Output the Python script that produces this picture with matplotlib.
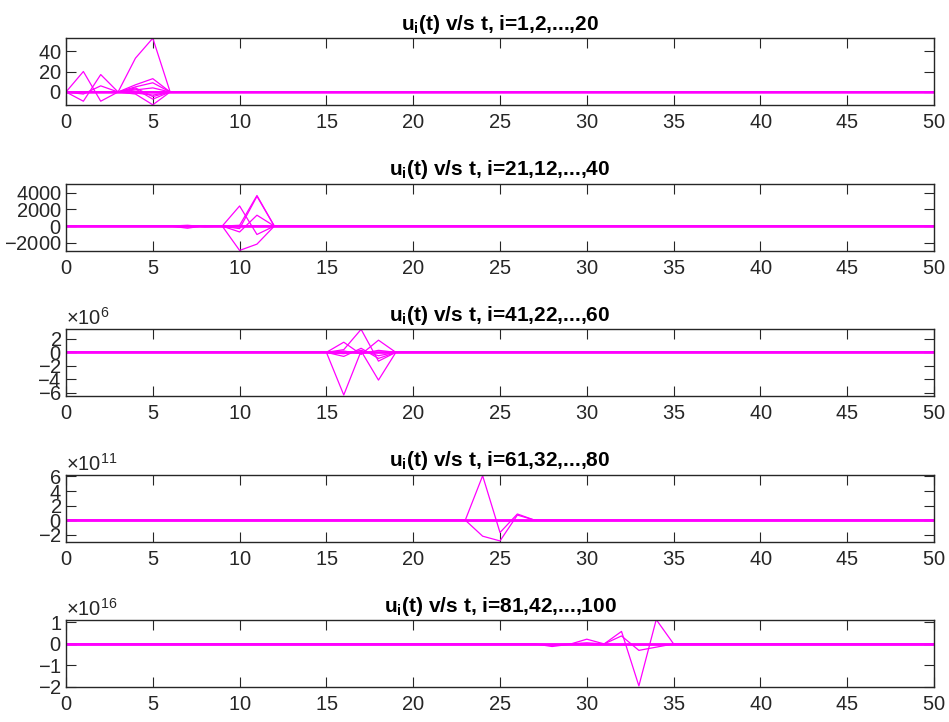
import numpy as np
import matplotlib
matplotlib.use("Agg")
import matplotlib.pyplot as plt

# time axis and number of series per panel
t = np.arange(0, 51)
n_series = 20

# each panel: start index of each bump and the bump values (zero elsewhere)
p1_start = [0, 0, 0, 3, 3, 3, 3, 3, 3, 3, 3]
p1_bumps = [[0, 20, -9, 0], [0, -9, 17, 0], [0, -2, 6, 0],
            [0, 33, 52.5, 0], [0, 7, 13, 0], [0, 5, 9, 0], [0, 3, -7, 0],
            [0, -2, -12.5, 0], [0, 2, 4, 0], [0, -1, -3, 0], [0, 4, -4.5, 0]]

p2_start = [9, 9, 9, 9, 9, 6, 6]
p2_bumps = [[0, 2400, -1000, 0], [0, 100, 3650, 0], [0, -300, 3550, 0],
            [0, -700, 1300, 0], [0, -2900, -2150, 0],
            [0, -250, 60, 0], [0, 100, -80, 0]]

p3_start = [15, 15, 15, 15, 15, 15]
p3_bumps = [[0, -6.3e6, 0.2e6, -4.1e6, 0], [0, 1.5e6, -0.3e6, 1.8e6, 0],
            [0, 0.4e6, 3.4e6, -1.3e6, 0], [0, -0.6e6, 0.6e6, -0.9e6, 0],
            [0, 0.2e6, -0.2e6, 0.3e6, 0], [0, -0.2e6, 0.3e6, -0.5e6, 0]]

p4_start = [23, 23]
p4_bumps = [[0, 6.1e11, -1.7e11, 0.85e11, 0], [0, -2.2e11, -2.85e11, 0.7e11, 0]]

p5_start = [27, 27]
p5_bumps = [[0, -0.12e16, -0.02e16, 0.22e16, 0, 0.58e16, -1.95e16, 1.13e16, 0],
            [0, -0.05e16, 0, 0.05e16, 0, 0.37e16, -0.3e16, -0.15e16, 0]]

titles = ["1,2,...,20", "21,12,...,40", "41,22,...,60", "61,32,...,80", "81,42,...,100"]
ylims = [(-12.7, 52.7), (-2910, 5080), (-6.45e6, 3.45e6), (-2.93e11, 6.27e11), (-2.0e16, 1.11e16)]
yticks = [[0, 20, 40], [-2000, 0, 2000, 4000], [-6e6, -4e6, -2e6, 0, 2e6],
          [-2e11, 0, 2e11, 4e11, 6e11], [-2e16, -1e16, 0, 1e16]]

panels = [(p1_start, p1_bumps), (p2_start, p2_bumps), (p3_start, p3_bumps),
          (p4_start, p4_bumps), (p5_start, p5_bumps)]

plt.rcParams["font.family"] = ["Liberation Sans", "DejaVu Sans"]
plt.rcParams["mathtext.fontset"] = "custom"
plt.rcParams["mathtext.rm"] = "Liberation Sans"
plt.rcParams["mathtext.bf"] = "Liberation Sans:bold"
plt.rcParams["axes.unicode_minus"] = False
plt.rcParams["axes.formatter.use_mathtext"] = True

fig = plt.figure(figsize=(9.49, 7.22), dpi=100)
W, H = 949, 722
dark = "#262626"

for k, (starts, bumps) in enumerate(panels):
    top = 38 + 145.5 * k
    ax = fig.add_axes([66 / W, 1 - (top + 67) / H, 868 / W, 67 / H])
    series = np.zeros((n_series, len(t)))
    for j, (s, vals) in enumerate(zip(starts, bumps)):
        series[j, s:s + len(vals)] = vals
    for row in series:
        ax.plot(t, row, color="#FF00FF", lw=0.9)
    ax.set_xlim(0, 50)
    ax.set_ylim(*ylims[k])
    ax.set_xticks(range(0, 51, 5))
    ax.set_yticks(yticks[k])
    ax.tick_params(direction="in", length=7, width=0.8, color=dark,
                   labelcolor=dark, labelsize=14.5, top=True, right=True)
    ax.tick_params(axis="x", pad=6)
    ax.tick_params(axis="y", pad=3)
    for sp in ax.spines.values():
        sp.set_color(dark)
        sp.set_linewidth(1.0)
    ax.yaxis.get_offset_text().set_fontsize(14.5)
    ax.yaxis.get_offset_text().set_color(dark)
    ax.set_title(r"u$_{\mathbf{i}}$(t) v/s t, i=" + titles[k],
                 fontsize=15, fontweight="bold", pad=6)

fig.savefig("out.png", dpi=100)
